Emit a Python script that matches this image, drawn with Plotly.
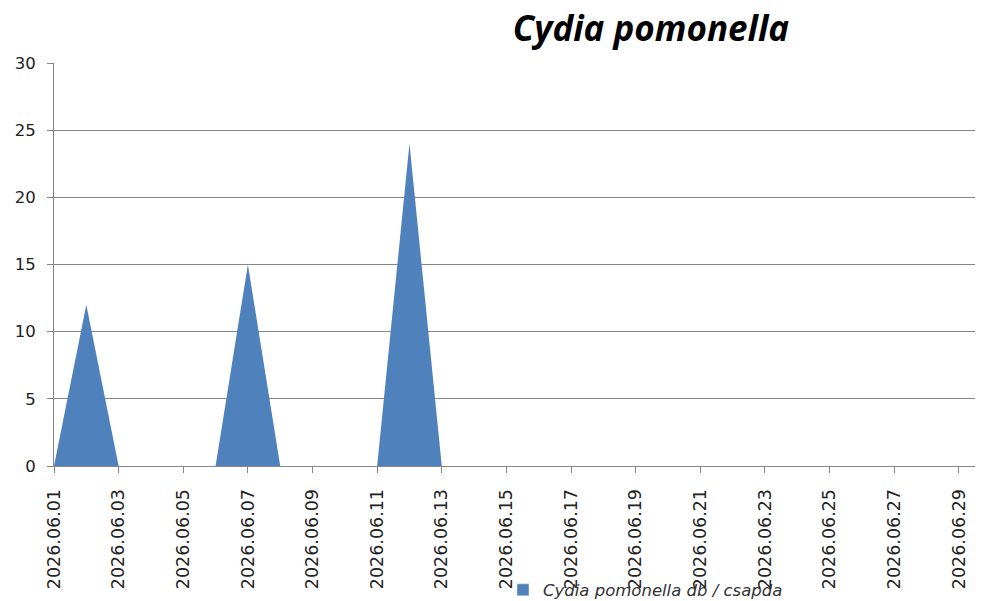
import plotly.graph_objects as go

dates = [f"2026-06-{d:02d}" for d in range(1, 30)]
values = [0, 12, 0, 0, 0, 0, 15, 0, 0, 0, 0, 24, 0, 0, 0, 0, 0, 0, 0, 0, 0, 0, 0, 0, 0, 0, 0, 0, 0]
tick_dates = dates[::2]
tick_labels = [d.replace("-", ".") for d in tick_dates]
series_name = "Cydia pomonella db / csapda"
title_text = "Cydia pomonella"
fill_color = "#4F81BD"

fig = go.Figure()
fig.add_trace(go.Scatter(
    x=dates, y=values, name=series_name, mode="lines",
    line=dict(width=0, color=fill_color), fill="tozeroy", fillcolor=fill_color,
    showlegend=False,
))
# legend-only entry with a square swatch, as in the reference
fig.add_trace(go.Bar(
    x=[None], y=[None], name=series_name, marker=dict(color=fill_color),
    showlegend=True,
))

fig.update_layout(
    width=984, height=601,
    margin=dict(l=54, r=9, t=63, b=135, autoexpand=False),
    paper_bgcolor="white", plot_bgcolor="white",
    font=dict(family="DejaVu Sans", size=16, color="#222222"),
    title=dict(text=f"<b><i>{title_text}</i></b>", x=0.6616, xanchor="center",
               y=0.9517, yanchor="middle",
               font=dict(family="Open Sans", size=35, color="black")),
    showlegend=True,
    legend=dict(orientation="h", x=0.4875, xanchor="left", y=-0.308, yanchor="middle",
                bgcolor="rgba(0,0,0,0)", itemwidth=30,
                font=dict(family="DejaVu Sans", size=16.5, color="#333333", style="italic")),
    xaxis=dict(
        type="date", range=["2026-06-01", "2026-06-29 12:00"], automargin=False,
        tickmode="array", tickvals=tick_dates, ticktext=tick_labels,
        tickfont=dict(size=17.5, color="#222222"), ticklabelstandoff=9,
        tickangle=-90, ticks="outside", ticklen=6, tickcolor="#868686",
        showline=True, linecolor="#868686", linewidth=1,
        showgrid=False, zeroline=False,
    ),
    yaxis=dict(
        range=[0, 30], dtick=5, tick0=0, automargin=False,
        tickfont=dict(size=16.5, color="#222222"), ticklabelstandoff=8,
        ticks="outside", ticklen=6, tickcolor="#868686",
        showline=True, linecolor="#868686", linewidth=1,
        showgrid=True, gridcolor="#868686", gridwidth=1, zeroline=False,
    ),
)

fig.write_html("out.html", config={"displayModeBar": False},
               post_script="document.body.style.margin='0';")
